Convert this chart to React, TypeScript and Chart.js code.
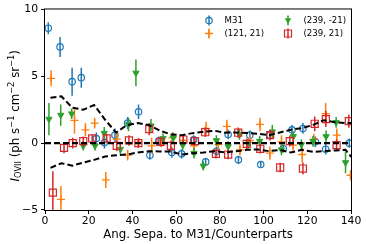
import React, { useEffect, useRef } from 'react';
import { Chart, registerables } from 'chart.js';
Chart.register(...registerables);

// ---- data ----
const m31X = [1.5, 6.9, 12.4, 16.6, 23.5, 27.2, 32.0, 37.8, 42.8, 48.0, 52.0, 58.0, 62.5, 68.0, 73.5, 78.5, 83.8, 88.5, 93.7, 98.7, 103.0, 109.0, 113.0, 118.0, 123.7, 128.4, 139.2];
const m31Y = [8.6, 7.2, 4.6, 4.9, 0.35, 0.05, 0.6, 1.5, 2.35, -0.9, 0.15, -0.7, -0.8, 0.25, -1.4, -0.6, 0.65, -1.25, 0.6, -1.6, 0.6, -0.4, 1.0, 1.1, 0.1, -0.45, 0.0];
const m31Err = [0.45, 0.75, 1.05, 0.75, 0.45, 0.45, 0.5, 0.45, 0.55, 0.35, 0.35, 0.4, 0.35, 0.35, 0.3, 0.35, 0.35, 0.3, 0.35, 0.2, 0.3, 0.3, 0.35, 0.4, 0.4, 0.4, 0.35];

const p121X = [2.8, 7.3, 13.5, 18.5, 22.7, 27.8, 32.8, 37.8, 42.8, 48.8, 53.3, 58.3, 63.2, 68.2, 73.7, 79.3, 83.2, 89.2, 93.7, 98.4, 102.9, 108.2, 113.5, 117.7, 123.0, 128.4, 133.5, 139.8];
const p121Y = [4.85, -4.2, 1.7, 1.0, 1.5, -2.75, 0.3, -0.9, 0.05, -0.2, 0.1, 0.4, 0.2, -0.2, 1.1, -0.1, 1.25, -0.5, 0.2, 1.4, -0.75, 0.1, -0.15, -0.85, 0.3, 2.2, 0.6, -2.4];
const p121Err = [0.6, 1.0, 1.0, 0.5, 0.4, 0.6, 0.5, 0.4, 0.35, 0.6, 0.4, 0.4, 0.4, 0.4, 0.5, 0.4, 0.5, 0.4, 0.4, 0.5, 0.5, 0.5, 0.4, 0.6, 0.4, 0.8, 0.5, 0.4];

const m239X = [1.8, 7.2, 12.2, 17.5, 22.9, 27.1, 34.5, 38.2, 41.6, 48.5, 54.0, 58.7, 63.0, 68.2, 72.4, 78.4, 83.8, 89.0, 93.0, 98.2, 104.0, 108.2, 113.6, 117.3, 122.6, 128.6, 133.2, 137.5];
const m239Y = [1.8, 2.1, 2.2, -0.2, -0.2, 0.75, -0.45, 1.4, 5.25, 1.3, 0.35, 0.4, -0.15, -0.75, -1.7, 0.2, -0.25, 0.65, -0.05, 0.15, 0.85, -0.5, 0.5, -0.1, 0.13, 0.5, 1.55, -1.45];
const m239Err = [1.2, 0.8, 0.4, 0.35, 0.35, 0.45, 0.4, 0.5, 1.0, 0.5, 0.4, 0.4, 0.35, 0.4, 0.35, 0.4, 0.4, 0.4, 0.35, 0.4, 0.5, 0.4, 0.4, 0.4, 0.4, 0.45, 0.4, 0.8];

const p239X = [3.6, 8.7, 12.7, 17.5, 21.6, 28.2, 32.8, 38.4, 42.7, 47.7, 52.8, 57.6, 63.3, 68.6, 73.3, 78.2, 83.8, 88.4, 92.3, 98.5, 103.0, 107.6, 112.0, 118.0, 123.4, 128.5, 133.4, 139.0];
const p239Y = [-3.7, -0.35, 0.0, 0.15, 0.35, 0.35, -0.2, 0.2, 0.0, 1.05, 0.1, -0.2, 0.27, 0.15, 0.82, -0.8, -0.85, 0.78, -0.05, -0.42, 0.6, -1.82, 0.15, -1.9, 1.45, 1.8, -0.15, 1.65];
const p239Err = [1.6, 0.4, 0.4, 0.35, 0.3, 0.35, 0.4, 0.4, 0.35, 0.45, 0.35, 0.4, 0.35, 0.35, 0.35, 0.35, 0.35, 0.4, 0.4, 0.35, 0.4, 0.35, 0.4, 0.45, 0.55, 0.6, 0.45, 0.5];

const bandX = [2.5, 7.5, 12.5, 17.5, 22.5, 27.5, 32.5, 37.5, 42.5, 47.5, 52.5, 57.5, 62.5, 67.5, 72.5, 77.5, 82.5, 87.5, 92.5, 97.5, 102.5, 107.5, 112.5, 117.5, 122.5, 127.5, 132.5, 137.5, 142.5];
const bandUpper = [3.4, 3.5, 2.65, 2.5, 2.85, 1.75, 0.8, 1.35, 1.5, 1.35, 0.95, 0.65, 0.6, 0.75, 0.85, 0.93, 0.78, 0.8, 0.76, 0.7, 0.6, 0.8, 1.0, 1.13, 1.35, 1.72, 1.57, 1.5, 1.5];
const bandLower = [-1.85, -1.5, -1.68, -1.45, -1.25, -1.0, -0.9, -0.85, -0.7, -0.6, -0.62, -0.62, -0.85, -0.75, -0.7, -0.6, -0.7, -0.6, -0.5, -0.47, -0.6, -0.5, -0.7, -0.5, -0.65, -0.6, -0.55, -0.5, -1.5];
const zeroX = [0, 140];
const zeroY = [0, 0];

const seriesNames = ['M31', '(121, 21)', '(239, -21)', '(239, 21)'];
const xLabel = 'Ang. Sepa. to M31/Counterparts';

const BLUE = '#1f77b4';
const ORANGE = '#ff7f0e';
const GREEN = '#2ca02c';
const RED = '#d62728';
const FONT = "'DejaVu Sans', sans-serif";

const pts = (xs: number[], ys: number[]) => xs.map((x, i) => ({ x, y: ys[i] }));

function drawMarker(ctx: CanvasRenderingContext2D, style: string, x: number, y: number, color: string) {
  ctx.save();
  ctx.strokeStyle = color;
  ctx.fillStyle = color;
  ctx.lineWidth = 1.2;
  ctx.beginPath();
  if (style === 'circle') {
    ctx.arc(x, y, 3.2, 0, Math.PI * 2);
    ctx.stroke();
  } else if (style === 'cross') {
    ctx.lineWidth = 1.3;
    ctx.moveTo(x - 4, y); ctx.lineTo(x + 4, y);
    ctx.moveTo(x, y - 4); ctx.lineTo(x, y + 4);
    ctx.stroke();
  } else if (style === 'tri') {
    ctx.moveTo(x - 3.3, y - 2.2); ctx.lineTo(x + 3.3, y - 2.2); ctx.lineTo(x, y + 3.3); ctx.closePath();
    ctx.fill();
  } else {
    ctx.rect(x - 3.5, y - 3.5, 7, 7);
    ctx.stroke();
  }
  ctx.restore();
}

const errPlugin = {
  id: 'errbars',
  beforeDatasetDraw(chart: any, args: any) {
    const ds = chart.data.datasets[args.index];
    if (!ds.errors) return;
    const { ctx, chartArea, scales } = chart;
    ctx.save();
    ctx.beginPath();
    ctx.rect(chartArea.left, chartArea.top, chartArea.right - chartArea.left, chartArea.bottom - chartArea.top);
    ctx.clip();
    ctx.strokeStyle = ds.borderColor;
    ctx.lineWidth = 1.5;
    ds.data.forEach((p: any, i: number) => {
      const e = ds.errors[i];
      const px = scales.x.getPixelForValue(p.x);
      ctx.beginPath();
      ctx.moveTo(px, scales.y.getPixelForValue(p.y - e));
      ctx.lineTo(px, scales.y.getPixelForValue(p.y + e));
      ctx.stroke();
    });
    ctx.restore();
  },
};

const decorPlugin = {
  id: 'decor',
  afterDraw(chart: any) {
    const { ctx, chartArea } = chart;
    const { left, right, top, bottom } = chartArea;
    ctx.save();
    // frame
    ctx.strokeStyle = '#000';
    ctx.lineWidth = 1;
    ctx.strokeRect(left - 0.5, top - 0.5, right - left + 1, bottom - top + 1);

    // x title
    ctx.fillStyle = '#000';
    ctx.font = `11.8px ${FONT}`;
    ctx.textAlign = 'center';
    ctx.textBaseline = 'middle';
    ctx.fillText(xLabel, (left + right) / 2, 235);

    // y title with sub/superscripts
    const big = 11.8, small = 8.3;
    const parts: [string, number, number, boolean][] = [
      ['I', big, 0, true],
      ['OVII', small, 2.5, false],
      [' (ph s', big, 0, false],
      ['\u22121', small, -4.8, false],
      [' cm', big, 0, false],
      ['\u22122', small, -4.8, false],
      [' sr', big, 0, false],
      ['\u22121', small, -4.8, false],
      [')', big, 0, false],
    ];
    let total = 0;
    const widths = parts.map(([t, s, , it]) => {
      ctx.font = `${it ? 'italic ' : ''}${s}px ${FONT}`;
      const w = ctx.measureText(t).width;
      total += w;
      return w;
    });
    ctx.translate(18.5, (top + bottom) / 2 + 6);
    ctx.rotate(-Math.PI / 2);
    ctx.textAlign = 'left';
    ctx.textBaseline = 'alphabetic';
    let cx = -total / 2;
    parts.forEach(([t, s, off, it], i) => {
      ctx.font = `${it ? 'italic ' : ''}${s}px ${FONT}`;
      ctx.fillText(t, cx, off);
      cx += widths[i];
    });
    ctx.restore();

    // legend
    const items = [
      { label: seriesNames[0], color: BLUE, style: 'circle', x: right - 142, y: top + 11 },
      { label: seriesNames[1], color: ORANGE, style: 'cross', x: right - 142, y: top + 24 },
      { label: seriesNames[2], color: GREEN, style: 'tri', x: right - 63, y: top + 11 },
      { label: seriesNames[3], color: RED, style: 'square', x: right - 63, y: top + 24 },
    ];
    ctx.save();
    items.forEach((it) => {
      ctx.strokeStyle = it.color;
      ctx.lineWidth = 1.5;
      ctx.beginPath();
      ctx.moveTo(it.x, it.y - 5);
      ctx.lineTo(it.x, it.y + 5);
      ctx.stroke();
      drawMarker(ctx, it.style, it.x, it.y, it.color);
      ctx.fillStyle = '#000';
      ctx.font = `8.6px ${FONT}`;
      ctx.textAlign = 'left';
      ctx.textBaseline = 'middle';
      ctx.fillText(it.label, it.x + 15.5, it.y);
    });
    ctx.restore();
  },
};

export default function App() {
  const ref = useRef<HTMLCanvasElement>(null);
  useEffect(() => {
    const lineCommon = {
      showLine: true,
      pointRadius: 0,
      borderColor: '#000',
      backgroundColor: '#000',
      borderWidth: 2,
      borderDash: [6, 3],
      clip: 0,
      order: 0,
    };
    const chart = new Chart(ref.current!, {
      type: 'scatter',
      data: {
        datasets: [
          { ...lineCommon, label: 'upper', data: pts(bandX, bandUpper) },
          { ...lineCommon, label: 'lower', data: pts(bandX, bandLower) },
          { ...lineCommon, label: 'zero', data: pts(zeroX, zeroY), borderWidth: 2.2 },
          {
            label: seriesNames[3], data: pts(p239X, p239Y), errors: p239Err,
            pointStyle: 'rect', pointRadius: 5, borderWidth: 1.2,
            borderColor: RED, backgroundColor: 'rgba(0,0,0,0)', order: 1,
          } as any,
          {
            label: seriesNames[2], data: pts(m239X, m239Y), errors: m239Err,
            pointStyle: 'triangle', rotation: 180, pointRadius: 3.6, borderWidth: 1,
            borderColor: GREEN, backgroundColor: GREEN, order: 2,
          } as any,
          {
            label: seriesNames[1], data: pts(p121X, p121Y), errors: p121Err,
            pointStyle: 'cross', pointRadius: 4, borderWidth: 1.3,
            borderColor: ORANGE, backgroundColor: ORANGE, order: 3,
          } as any,
          {
            label: seriesNames[0], data: pts(m31X, m31Y), errors: m31Err,
            pointStyle: 'circle', pointRadius: 3.2, borderWidth: 1.2,
            borderColor: BLUE, backgroundColor: 'rgba(0,0,0,0)', order: 4,
          } as any,
        ],
      },
      options: {
        responsive: false,
        animation: false,
        events: [],
        layout: { padding: { left: 0, right: 15, top: 6, bottom: 0 } },
        plugins: { legend: { display: false }, tooltip: { enabled: false } },
        scales: {
          x: {
            type: 'linear', min: 0, max: 140,
            ticks: { stepSize: 20, color: '#000', font: { family: FONT, size: 10.8 }, padding: 1, maxRotation: 0 },
            grid: { drawOnChartArea: false, drawTicks: true, tickLength: 4, tickColor: '#000', tickWidth: 1 },
            border: { display: false },
            afterFit: (s: any) => { s.height = 34; },
          },
          y: {
            type: 'linear', min: -5, max: 10,
            ticks: {
              stepSize: 5, color: '#000', font: { family: FONT, size: 10.8 }, padding: 3,
              callback: (v: any) => (v < 0 ? '\u2212' + Math.abs(v) : String(v)),
            },
            grid: { drawOnChartArea: false, drawTicks: true, tickLength: 4, tickColor: '#000', tickWidth: 1 },
            border: { display: false },
            afterFit: (s: any) => { s.width = 45; },
          },
        },
      },
      plugins: [errPlugin, decorPlugin],
    } as any);
    return () => chart.destroy();
  }, []);
  return (
    <div style={{ position: 'fixed', left: 0, top: 0, width: 366, height: 244, background: '#fff' }}>
      <canvas ref={ref} width={366} height={244} style={{ display: 'block' }} />
    </div>
  );
}
